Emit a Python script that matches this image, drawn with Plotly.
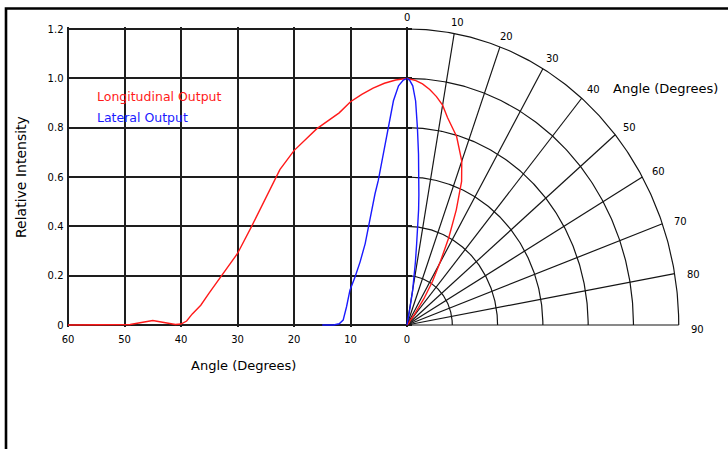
import numpy as np
import plotly.graph_objects as go

# ---------------- data ----------------
long_angle = [60, 55, 50, 49, 47, 45, 43, 41, 40, 39, 38, 36.5, 35, 32.5, 30,
              27.5, 25, 22.5, 20, 16, 12, 10, 8, 6, 4, 2, 0]
long_int = [0, 0, 0, 0.002, 0.01, 0.018, 0.01, 0.002, 0.004, 0.016, 0.045, 0.08,
            0.13, 0.21, 0.29, 0.40, 0.515, 0.63, 0.707, 0.795, 0.86, 0.905,
            0.935, 0.96, 0.98, 0.993, 1.0]

lat_angle = [15, 13, 12, 11.3, 10.7, 10.1, 9.2, 8.3, 7.4, 6.85, 6.25, 5.66,
             5.08, 4.2, 3.3, 2.4, 1.5, 0.65, 0]
lat_int = [0, 0, 0.005, 0.02, 0.074, 0.141, 0.195, 0.256, 0.33, 0.397, 0.471,
           0.532, 0.586, 0.694, 0.80, 0.909, 0.97, 0.993, 1.0]

x_ticks = [60, 50, 40, 30, 20, 10, 0]
y_ticks = [0, 0.2, 0.4, 0.6, 0.8, 1.0, 1.2]
y_ticktext = ["0", "0.2", "0.4", "0.6", "0.8", "1.0", "1.2"]
polar_angles = [0, 10, 20, 30, 40, 50, 60, 70, 80, 90]
polar_radii = [0.2, 0.4, 0.6, 0.8, 1.0, 1.2]

# ---------------- layout geometry ----------------
W, H = 728, 449
ML, MR, MT, MB = 66, 47, 27, 122
PW, PH = W - ML - MR, H - MT - MB
Y0_PX, Y12_PX = 325.0, 29.0          # pixel rows of intensity 0 and 1.2
Y_SCALE = (Y0_PX - Y12_PX) / 1.2
PLOT_BOTTOM = H - MB
Y_RANGE = [-(PLOT_BOTTOM - Y0_PX) / Y_SCALE, 1.2 + (Y12_PX - MT) / Y_SCALE]


def px(x):
    return (x - ML) / PW


def py(y):
    return (H - MB - y) / PH


FONT = "DejaVu Sans"
RED = "#ff1a1a"
BLUE = "#1a1aff"

fig = go.Figure()

# Cartesian curves
fig.add_trace(go.Scatter(x=long_angle, y=long_int, mode="lines",
                         line=dict(color=RED, width=1.4), xaxis="x", yaxis="y",
                         hoverinfo="skip"))
fig.add_trace(go.Scatter(x=lat_angle, y=lat_int, mode="lines",
                         line=dict(color=BLUE, width=1.4), xaxis="x", yaxis="y",
                         hoverinfo="skip"))

# Polar grid (quarter, 0 at top, 90 at right) drawn on x2/y2
theta_fine = np.radians(np.linspace(0, 90, 181))
for r in polar_radii:
    fig.add_trace(go.Scatter(x=r * np.sin(theta_fine), y=r * np.cos(theta_fine),
                             mode="lines", line=dict(color="#151515", width=1.2),
                             xaxis="x2", yaxis="y2", hoverinfo="skip"))
rmax = max(polar_radii)
for a in polar_angles:
    t = np.radians(a)
    fig.add_trace(go.Scatter(x=[0, rmax * np.sin(t)], y=[0, rmax * np.cos(t)],
                             mode="lines", line=dict(color="#151515", width=1.2),
                             xaxis="x2", yaxis="y2", hoverinfo="skip"))

# Polar curves
for ang, val, col in [(long_angle, long_int, RED), (lat_angle, lat_int, BLUE)]:
    t = np.radians(np.array(ang, dtype=float))
    r = np.array(val, dtype=float)
    fig.add_trace(go.Scatter(x=r * np.sin(t), y=r * np.cos(t), mode="lines",
                             line=dict(color=col, width=1.4),
                             xaxis="x2", yaxis="y2", hoverinfo="skip"))

# ---------------- annotations ----------------
ann = []
for a in polar_angles:
    t = np.radians(a)
    ann.append(dict(x=rmax * np.sin(t), y=rmax * np.cos(t), xref="x2", yref="y2",
                    text=str(a), showarrow=False, xanchor="center",
                    yanchor="middle",
                    xshift=19 * np.sin(t),
                    yshift=11.5 * np.cos(t) - 4 * max(0.0, (a - 60) / 30),
                    font=dict(family=FONT, size=10, color="black")))


def label(x, y, text, size, color="black", xanchor="center", angle=0):
    return dict(x=px(x), y=py(y), xref="paper", yref="paper", xanchor=xanchor,
                yanchor="middle", text=text, showarrow=False, textangle=angle,
                font=dict(family=FONT, size=size, color=color))


ann.append(label(611, 88, "Angle (Degrees)", 13, xanchor="left"))
ann.append(label(243, 366, "Angle (Degrees)", 13))
ann.append(label(21, 177, "Relative Intensity", 14, angle=-90))
ann.append(label(95, 97, "Longitudinal Output", 12.5, RED, xanchor="left"))
ann.append(label(95, 117, "Lateral Output", 12.5, BLUE, xanchor="left"))

# outer frame
shapes = [dict(type="rect", xref="paper", yref="paper",
               x0=px(6), x1=px(731), y0=py(462), y1=py(8.5),
               line=dict(color="black", width=2.6), fillcolor="rgba(0,0,0,0)")]

# x domain: 60 at x=68, 0 at x=407
deg_px = (407 - 68) / 60.0
x_left_px = ML + 0.5
x_lo, x_hi = (407 - x_left_px) / deg_px, -0.9
x_right_px = 407 - x_hi * deg_px

x2_lo, x2_hi = -0.02, 1.21
x2_left_px = 407 + x2_lo * 226.4

fig.update_layout(
    width=W, height=H,
    margin=dict(l=ML, r=MR, t=MT, b=MB),
    paper_bgcolor="white", plot_bgcolor="rgba(0,0,0,0)",
    showlegend=False,
    font=dict(family=FONT, size=10, color="black"),
    xaxis=dict(domain=[px(x_left_px), px(x_right_px)], range=[x_lo, x_hi],
               tickvals=x_ticks, ticktext=[str(v) for v in x_ticks],
               showgrid=True, gridcolor="#1e1e1e", gridwidth=2,
               zeroline=False, showline=False, ticks="", ticklabelstandoff=5,
               tickfont=dict(family=FONT, size=10, color="black"),
               anchor="y", fixedrange=True),
    yaxis=dict(domain=[0, 1], range=Y_RANGE, tickvals=y_ticks,
               ticktext=y_ticktext, showgrid=True, gridcolor="#1e1e1e",
               gridwidth=2, zeroline=False, showline=False, ticks="",
               ticklabelstandoff=2,
               tickfont=dict(family=FONT, size=10, color="black"),
               anchor="x", fixedrange=True),
    xaxis2=dict(domain=[px(x2_left_px), 1], range=[x2_lo, x2_hi], anchor="y2",
                visible=False, showgrid=False, zeroline=False, fixedrange=True),
    yaxis2=dict(domain=[0, 1], range=Y_RANGE, anchor="x2", visible=False,
                showgrid=False, zeroline=False, fixedrange=True),
    annotations=ann,
    shapes=shapes,
)

fig.write_html(
    "out.html",
    config={"displayModeBar": False},
    post_script="document.body.style.margin='0';document.body.style.padding='0';",
)
